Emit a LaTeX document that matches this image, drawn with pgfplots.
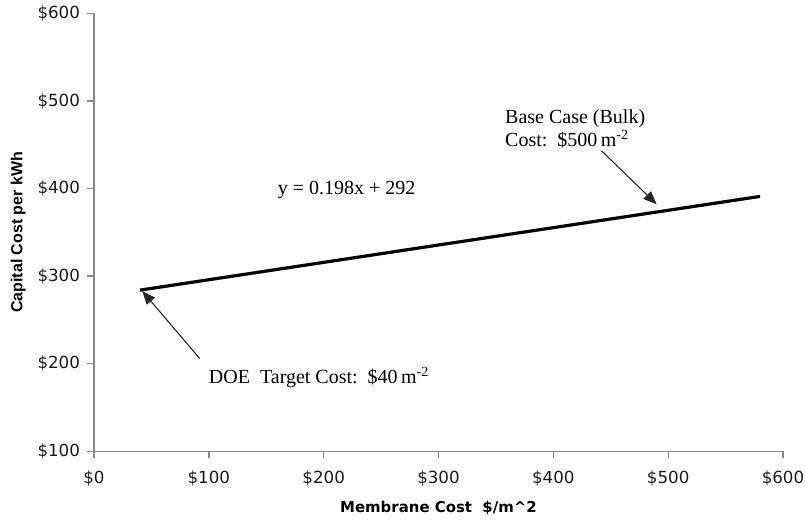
\documentclass[border=0pt]{standalone}
\usepackage{pgfplots}
\pgfplotsset{compat=1.18}
\usepackage{fontspec}
\setmainfont{Liberation Serif}
\newfontfamily\tickfont{DejaVu Sans}
\newfontfamily\ylabfont{Liberation Sans}
\usetikzlibrary{arrows.meta}
\definecolor{axisgray}{RGB}{134,134,134}

\begin{document}
\begin{tikzpicture}
\begin{axis}[
  at={(0,0)}, anchor=south west,
  scale only axis, width=516.75pt, height=328.5pt,
  xmin=0, xmax=600, ymin=100, ymax=600,
  axis lines=left,
  axis line style={draw=axisgray, line width=1.2pt, -},
  tick style={draw=axisgray, line width=1pt},
  tick align=outside, major tick length=5pt,
  xtick={0,100,...,600}, ytick={100,200,...,600},
  xticklabels={\$0,\$100,\$200,\$300,\$400,\$500,\$600},
  yticklabels={\$100,\$200,\$300,\$400,\$500,\$600},
  tick label style={font=\tickfont\fontsize{12.5}{15}\selectfont, text=black!90},
  yticklabel style={xshift=-2pt},
  xticklabel style={yshift=-6pt},
  xlabel={Membrane Cost\ \ \$/m\textasciicircum 2},
  ylabel={Capital Cost per kWh},
  xlabel style={font=\tickfont\bfseries\fontsize{11.2}{13}\selectfont,
    at={(axis description cs:0.5,0)}, anchor=center, yshift=-42.5pt},
  ylabel style={font=\ylabfont\bfseries\fontsize{12}{14}\selectfont,
    at={(axis description cs:-0.11,0.5)}, anchor=center},
  clip=false,
]
\addplot[black, line width=2.4pt] coordinates {(40,284) (580,391)};

\node[font=\fontsize{15}{17.5}\selectfont] at (axis cs:220,398) {y = 0.198x + 292};
\node[font=\fontsize{15}{17.5}\selectfont, anchor=west, align=left] at (axis cs:354,468)
  {Base Case (Bulk)\\Cost:\ \ \$500\,m\textsuperscript{-2}};
\node[font=\fontsize{15}{17.5}\selectfont, anchor=west] at (axis cs:96,184)
  {DOE\ \ Target Cost:\ \ \$40\,m\textsuperscript{-2}};
\draw[-{Triangle[length=10pt,width=8pt]}, draw=black!85, fill=black!85, line width=0.8pt]
  (axis cs:442,443) -- (axis cs:490,382);
\draw[-{Triangle[length=10pt,width=8pt]}, draw=black!85, fill=black!85, line width=0.8pt]
  (axis cs:92,206) -- (axis cs:42,283);
\end{axis}
\pgfresetboundingbox
\path[use as bounding box] (-70.5pt,-53.8pt) rectangle (533.25pt,338.5pt);
\end{tikzpicture}
\end{document}
